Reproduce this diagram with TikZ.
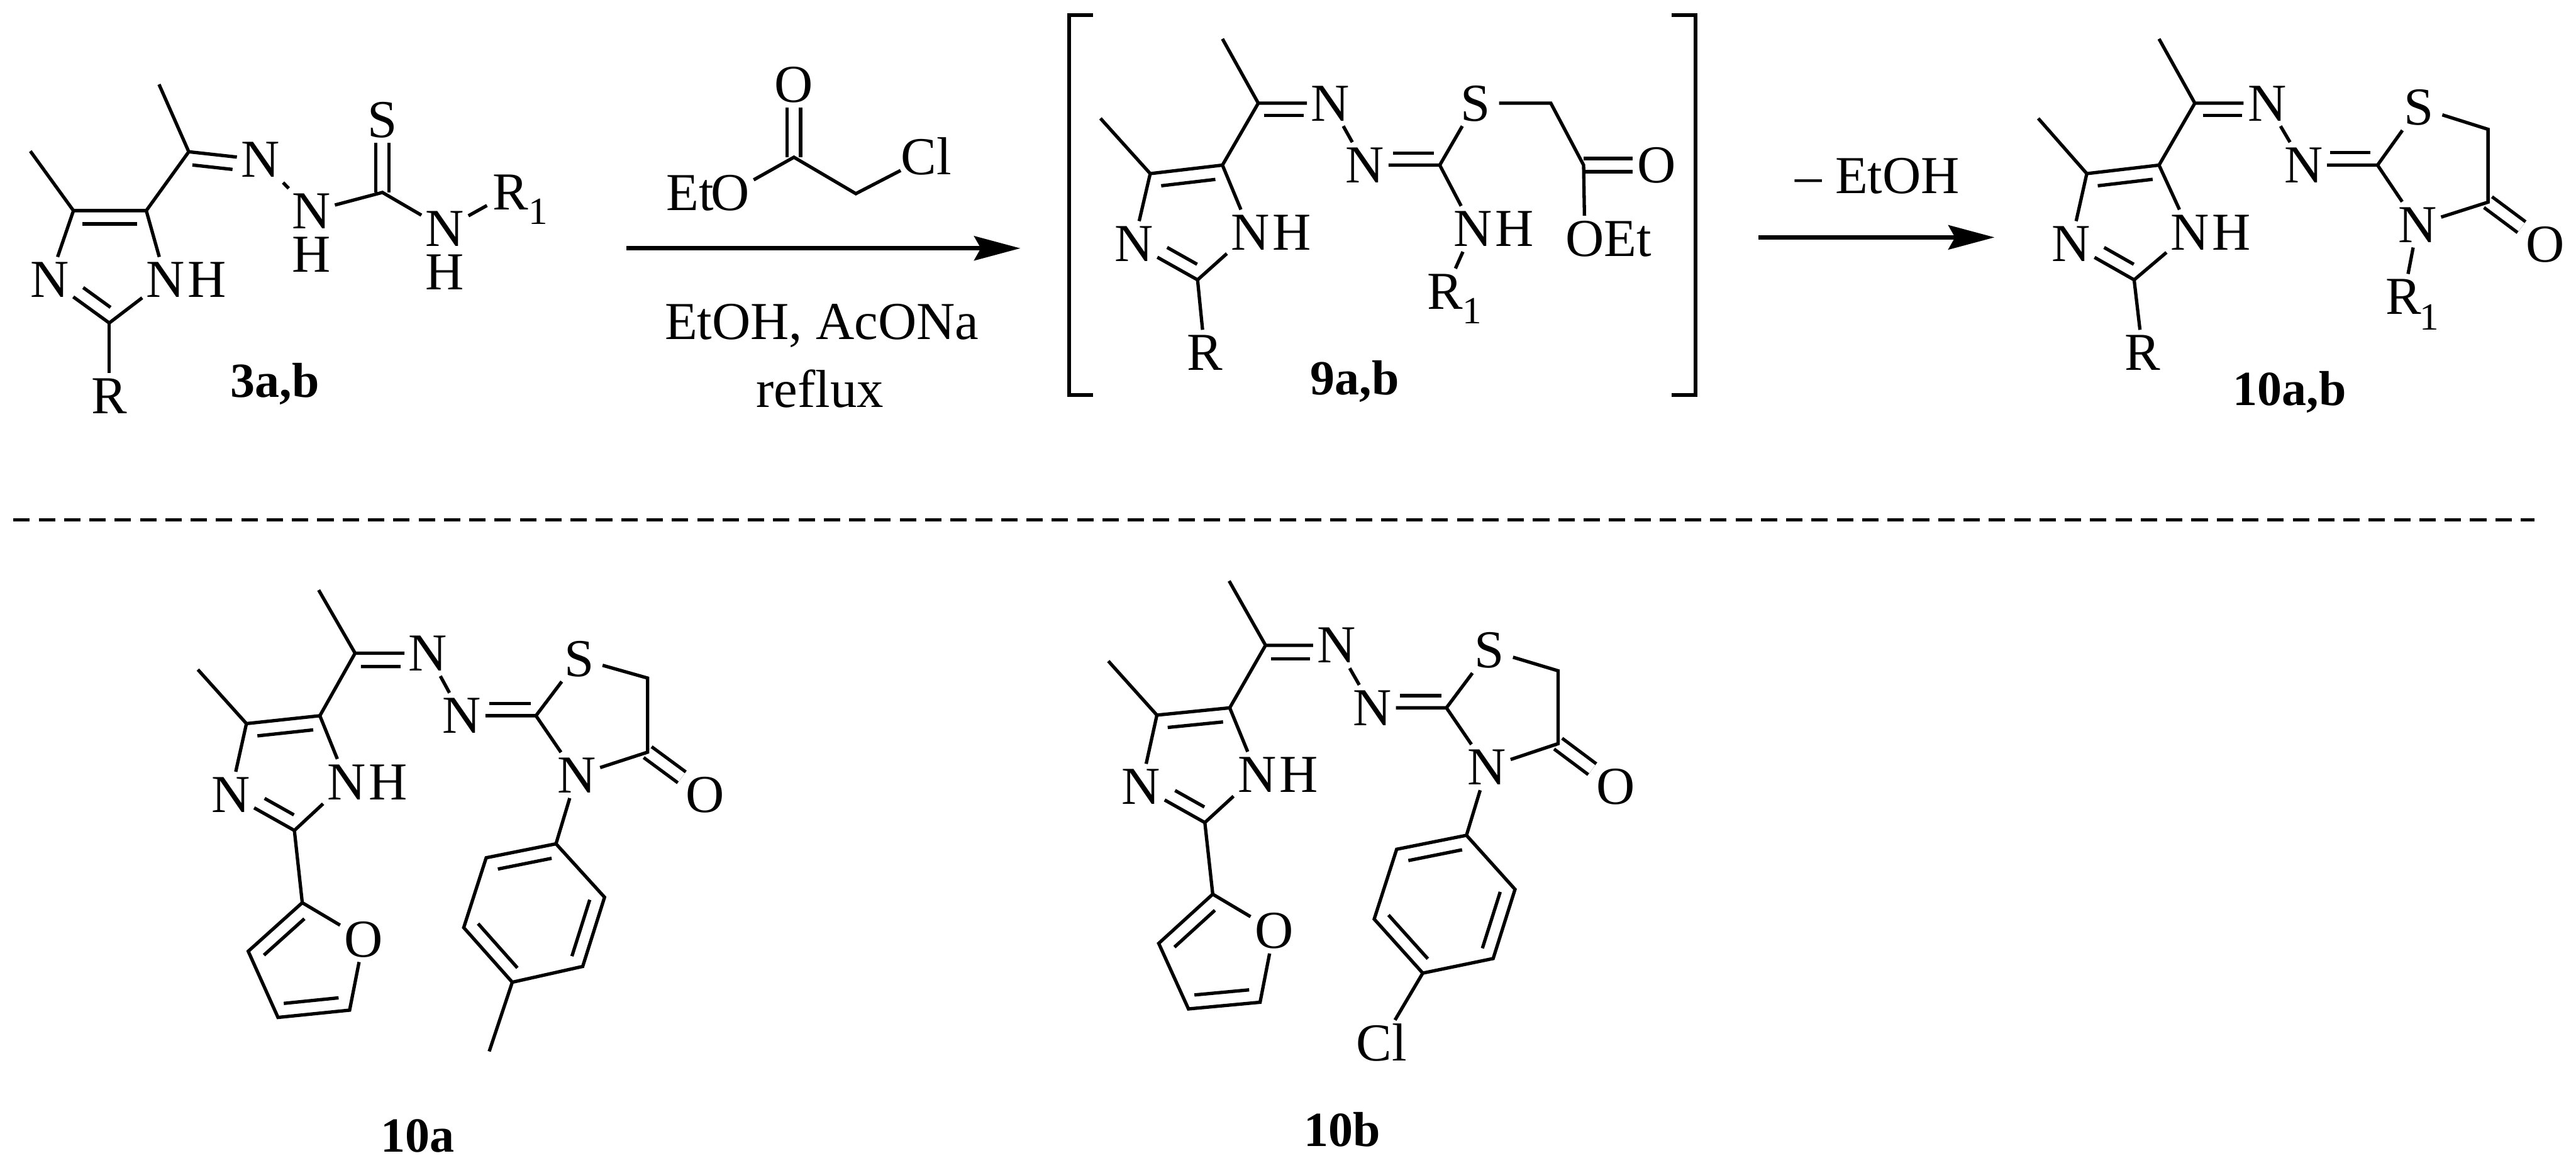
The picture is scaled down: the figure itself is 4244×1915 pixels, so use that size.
\documentclass[tikz,border=0pt]{standalone}
\usepackage{fontspec}
\setmainfont{Liberation Serif}
\usetikzlibrary{arrows.meta,calc,positioning}
\tikzset{
atom/.style={inner sep=0pt,minimum width=.76cm,minimum height=.74cm,text height=.58cm,text depth=0pt,font=\fontsize{25}{30}\selectfont},
atomsub/.style={inner sep=0pt,font=\fontsize{18}{20}\selectfont},
rxntext/.style={inner sep=0pt,anchor=base,font=\fontsize{25}{30}\selectfont},
molname/.style={inner sep=0pt,anchor=base,font=\fontsize{23}{28}\selectfont\bfseries},
bond/.style={line width=.055cm},
dblbond/.style={line width=.055cm,double,double distance=.165cm},
bracketline/.style={line width=.06cm},
rxnarrow/.style={line width=.07cm,-{Stealth[length=.76cm,width=.4cm,inset=.11cm]}},
sepline/.style={line width=.055cm,dash pattern=on .27cm off .147cm}
}
\newcommand{\innerbond}[5]{\draw[bond] ($(#1)!#3!(#2)!#5!90:(#2)$) -- ($(#1)!#4!(#2)!#5!90:(#2)$);}
\begin{document}
\begin{tikzpicture}[x=.01cm,y=-.01cm]
\useasboundingbox (0,0) rectangle (4244,1915);

\coordinate (m3me1) at (262,139);
\coordinate (m3cim) at (311,250);
\node[atom] (m3nim) at (429,263) {N};
\node[atom] (m3nh) at (513,348) {N};
\node[atom,below=-.04cm of m3nh] (m3h) {H};
\coordinate (m3cs) at (630,317);
\node[atom] (m3s) at (630,197) {S};
\node[atom] (m3n2) at (733,377) {N};
\node[atom,below=-.04cm of m3n2] (m3h2) {H};
\node[atom] (m3r1) at (841,317) {R};
\node[atomsub] (m3r1s) at ([shift={(46,31)}]m3r1.center) {1};
\coordinate (m3c5) at (241,347);
\coordinate (m3c4) at (121,347);
\coordinate (m3me2) at (50,249);
\node[atom] (m3n3) at (82,461) {N};
\node[atom] (m3n1) at (273,461) {N};
\node[atom,right=-.09cm of m3n1] (m3h1) {H};
\coordinate (m3c2) at (180,532);
\node[atom] (m3r) at (180,652) {R};
\node[molname] (m3name) at (453,654) {3a,b};
\draw[dblbond] (m3cs) -- (m3s);
\draw[bond] (m3me1) -- (m3cim) -- (m3nim) -- (m3nh) -- (m3cs) -- (m3n2) -- (m3r1);
\draw[bond] (m3cim) -- (m3c5) -- (m3c4) -- (m3me2);
\draw[bond] (m3c4) -- (m3n3) -- (m3c2) -- (m3n1) -- (m3c5);
\draw[bond] (m3c2) -- (m3r);
\innerbond{m3c5}{m3c4}{.125}{.88}{.22cm}
\innerbond{m3cim}{m3nim}{.07}{.63}{-.21cm}
\innerbond{m3c2}{m3n3}{.11}{.57}{-.22cm}

\node[atom] (rgo) at (1308,139) {O};
\coordinate (rgc) at (1308,259);
\node[atom] (rgo2) at (1203,318) {O};
\node[atom,left=-.12cm of rgo2] (rget) {Et};
\coordinate (rgch) at (1410,319);
\node[atom] (rgcl) at (1526,259) {Cl};
\draw[dblbond] (rgc) -- (rgo);
\draw[bond] (rgo2) -- (rgc) -- (rgch) -- (rgcl);
\coordinate (ar1a) at (1032,409);
\coordinate (ar1b) at (1681,409);
\draw[rxnarrow] (ar1a) -- (ar1b);
\node[rxntext] (cond1) at (1354,559) {EtOH, AcONa};
\node[rxntext] (cond2) at (1351,671) {reflux};

\coordinate (brl1) at (1801,25);
\coordinate (brl2) at (1761,25);
\coordinate (brl3) at (1761,651);
\coordinate (brl4) at (1801,651);
\coordinate (brr1) at (2754,25);
\coordinate (brr2) at (2793,25);
\coordinate (brr3) at (2793,651);
\coordinate (brr4) at (2754,651);
\draw[bracketline] (brl1) -- (brl2) -- (brl3) -- (brl4);
\draw[bracketline] (brr1) -- (brr2) -- (brr3) -- (brr4);

\coordinate (m9me1) at (2014,64);
\coordinate (m9cim) at (2073,170);
\node[atom] (m9nim) at (2192,170) {N};
\node[atom] (m9n2) at (2249,272) {N};
\coordinate (m9cn) at (2372,272);
\node[atom] (m9s) at (2431,170) {S};
\coordinate (m9ch) at (2555,170);
\coordinate (m9co) at (2609,272);
\node[atom] (m9o) at (2729,272) {O};
\node[atom] (m9oe) at (2611,393) {O};
\node[atom,right=-.08cm of m9oe] (m9et) {Et};
\node[atom] (m9nh) at (2427,377) {N};
\node[atom,right=-.09cm of m9nh] (m9h) {H};
\node[atom] (m9r1) at (2381,480) {R};
\node[atomsub] (m9r1s) at ([shift={(44,32)}]m9r1.center) {1};
\coordinate (m9c5) at (2014,272);
\coordinate (m9c4) at (1895,286);
\coordinate (m9me2) at (1813,195);
\node[atom] (m9n3) at (1868,402) {N};
\node[atom] (m9n1) at (2060,383) {N};
\node[atom,right=-.09cm of m9n1] (m9h1) {H};
\coordinate (m9c2) at (1973,461);
\node[atom] (m9r) at (1985,581) {R};
\node[molname] (m9name) at (2232,650) {9a,b};
\draw[dblbond] (m9co) -- (m9o);
\draw[bond] (m9me1) -- (m9cim) -- (m9nim) -- (m9n2) -- (m9cn) -- (m9s) -- (m9ch) -- (m9co) -- (m9oe);
\draw[bond] (m9cn) -- (m9nh) -- (m9r1);
\draw[bond] (m9cim) -- (m9c5) -- (m9c4) -- (m9me2);
\draw[bond] (m9c4) -- (m9n3) -- (m9c2) -- (m9n1) -- (m9c5);
\draw[bond] (m9c2) -- (m9r);
\innerbond{m9c5}{m9c4}{.12}{.87}{.22cm}
\innerbond{m9cim}{m9nim}{.08}{.63}{-.2cm}
\innerbond{m9cn}{m9n2}{.08}{.63}{-.2cm}
\innerbond{m9c2}{m9n3}{.11}{.58}{-.22cm}

\coordinate (ar2a) at (2897,391);
\coordinate (ar2b) at (3286,391);
\draw[rxnarrow] (ar2a) -- (ar2b);
\node[rxntext] (cond3) at (3093,319) {– EtOH};

\coordinate (m10me1) at (3557,64);
\coordinate (m10cim) at (3616,170);
\node[atom] (m10nim) at (3735,170) {N};
\node[atom] (m10n2) at (3795,272) {N};
\coordinate (m10cn) at (3917,272);
\node[atom] (m10s) at (3985,177) {S};
\coordinate (m10ch) at (4099,213);
\coordinate (m10co) at (4099,333);
\node[atom] (m10o) at (4193,403) {O};
\node[atom] (m10nr) at (3983,370) {N};
\node[atom] (m10r1) at (3960,489) {R};
\node[atomsub] (m10r1s) at ([shift={(42,34)}]m10r1.center) {1};
\coordinate (m10c5) at (3557,272);
\coordinate (m10c4) at (3438,286);
\coordinate (m10me2) at (3358,195);
\node[atom] (m10n3) at (3412,402) {N};
\node[atom] (m10n1) at (3608,383) {N};
\node[atom,right=-.09cm of m10n1] (m10h1) {H};
\coordinate (m10c2) at (3516,461);
\node[atom] (m10r) at (3530,581) {R};
\node[molname] (m10name) at (3772,668) {10a,b};
\draw[dblbond] (m10co) -- (m10o);
\draw[bond] (m10me1) -- (m10cim) -- (m10nim) -- (m10n2) -- (m10cn) -- (m10s) -- (m10ch) -- (m10co) -- (m10nr) -- (m10cn);
\draw[bond] (m10nr) -- (m10r1);
\draw[bond] (m10cim) -- (m10c5) -- (m10c4) -- (m10me2);
\draw[bond] (m10c4) -- (m10n3) -- (m10c2) -- (m10n1) -- (m10c5);
\draw[bond] (m10c2) -- (m10r);
\innerbond{m10c5}{m10c4}{.11}{.87}{.22cm}
\innerbond{m10cim}{m10nim}{.11}{.65}{-.2cm}
\innerbond{m10cn}{m10n2}{.1}{.64}{-.21cm}
\innerbond{m10c2}{m10n3}{.11}{.58}{-.22cm}

\coordinate (sepa) at (22,856);
\coordinate (sepb) at (4176,856);
\draw[sepline] (sepa) -- (sepb);

\coordinate (mame1) at (525,972);
\coordinate (macim) at (585,1076);
\node[atom] (manim) at (705,1076) {N};
\node[atom] (man2) at (761,1179) {N};
\coordinate (macn) at (883,1179);
\node[atom] (mas) at (954,1085) {S};
\coordinate (mach) at (1067,1117);
\coordinate (maco) at (1067,1239);
\node[atom] (mao) at (1162,1309) {O};
\node[atom] (manr) at (950,1277) {N};
\coordinate (mac5) at (527,1179);
\coordinate (mac4) at (406,1192);
\coordinate (mame2) at (326,1103);
\node[atom] (man3) at (380,1309) {N};
\node[atom] (man1) at (571,1288) {N};
\node[atom,right=-.09cm of man1] (mah1) {H};
\coordinate (mac2) at (485,1368);
\coordinate (mafa) at (498,1487);
\node[atom] (mafo) at (599,1547) {O};
\coordinate (mafb) at (409,1567);
\coordinate (mafc) at (458,1676);
\coordinate (mafd) at (576,1664);
\coordinate (maipso) at (916,1390);
\coordinate (maorta) at (801,1413);
\coordinate (maortb) at (996,1478);
\coordinate (mameta) at (764,1528);
\coordinate (mametb) at (960,1592);
\coordinate (mapara) at (844,1618);
\coordinate (mame3) at (806,1732);
\node[molname] (maname) at (688,1898) {10a};
\draw[dblbond] (maco) -- (mao);
\draw[bond] (mame1) -- (macim) -- (manim) -- (man2) -- (macn) -- (mas) -- (mach) -- (maco) -- (manr) -- (macn);
\draw[bond] (macim) -- (mac5) -- (mac4) -- (mame2);
\draw[bond] (mac4) -- (man3) -- (mac2) -- (man1) -- (mac5);
\draw[bond] (mac2) -- (mafa) -- (mafo) -- (mafd) -- (mafc) -- (mafb) -- (mafa);
\draw[bond] (manr) -- (maipso) -- (maorta) -- (mameta) -- (mapara) -- (mametb) -- (maortb) -- (maipso);
\draw[bond] (mapara) -- (mame3);
\innerbond{macim}{manim}{.08}{.625}{-.22cm}
\innerbond{macn}{man2}{.07}{.63}{-.2cm}
\innerbond{mac5}{mac4}{.11}{.87}{.22cm}
\innerbond{mac2}{man3}{.11}{.57}{-.22cm}
\innerbond{mafa}{mafb}{.126}{.875}{.22cm}
\innerbond{mafc}{mafd}{.1}{.865}{.22cm}
\innerbond{maipso}{maorta}{.1}{.87}{.22cm}
\innerbond{maortb}{mametb}{.095}{.91}{-.22cm}
\innerbond{mameta}{mapara}{.09}{.9}{.22cm}

\coordinate (mbme1) at (2025,957);
\coordinate (mbcim) at (2085,1063);
\node[atom] (mbnim) at (2202,1063) {N};
\node[atom] (mbn2) at (2261,1166) {N};
\coordinate (mbcn) at (2383,1166);
\node[atom] (mbs) at (2454,1071) {S};
\coordinate (mbch) at (2567,1105);
\coordinate (mbco) at (2567,1225);
\node[atom] (mbo) at (2662,1296) {O};
\node[atom] (mbnr) at (2450,1264) {N};
\coordinate (mbc5) at (2026,1166);
\coordinate (mbc4) at (1906,1178);
\coordinate (mbme2) at (1826,1089);
\node[atom] (mbn3) at (1880,1296) {N};
\node[atom] (mbn1) at (2071,1276) {N};
\node[atom,right=-.09cm of mbn1] (mbh1) {H};
\coordinate (mbc2) at (1985,1355);
\coordinate (mbfa) at (1998,1473);
\node[atom] (mbfo) at (2099,1533) {O};
\coordinate (mbfb) at (1909,1554);
\coordinate (mbfc) at (1958,1662);
\coordinate (mbfd) at (2076,1651);
\coordinate (mbipso) at (2416,1376);
\coordinate (mborta) at (2301,1399);
\coordinate (mbortb) at (2496,1465);
\coordinate (mbmeta) at (2264,1514);
\coordinate (mbmetb) at (2460,1579);
\coordinate (mbpara) at (2344,1603);
\node[atom] (mbcl) at (2276,1718) {Cl};
\node[molname] (mbname) at (2211,1888) {10b};
\draw[dblbond] (mbco) -- (mbo);
\draw[bond] (mbme1) -- (mbcim) -- (mbnim) -- (mbn2) -- (mbcn) -- (mbs) -- (mbch) -- (mbco) -- (mbnr) -- (mbcn);
\draw[bond] (mbcim) -- (mbc5) -- (mbc4) -- (mbme2);
\draw[bond] (mbc4) -- (mbn3) -- (mbc2) -- (mbn1) -- (mbc5);
\draw[bond] (mbc2) -- (mbfa) -- (mbfo) -- (mbfd) -- (mbfc) -- (mbfb) -- (mbfa);
\draw[bond] (mbnr) -- (mbipso) -- (mborta) -- (mbmeta) -- (mbpara) -- (mbmetb) -- (mbortb) -- (mbipso);
\draw[bond] (mbpara) -- (mbcl);
\innerbond{mbcim}{mbnim}{.08}{.625}{-.22cm}
\innerbond{mbcn}{mbn2}{.07}{.63}{-.2cm}
\innerbond{mbc5}{mbc4}{.11}{.87}{.22cm}
\innerbond{mbc2}{mbn3}{.11}{.57}{-.22cm}
\innerbond{mbfa}{mbfb}{.126}{.875}{.22cm}
\innerbond{mbfc}{mbfd}{.1}{.865}{.22cm}
\innerbond{mbipso}{mborta}{.1}{.87}{.22cm}
\innerbond{mbortb}{mbmetb}{.095}{.91}{-.22cm}
\innerbond{mbmeta}{mbpara}{.09}{.9}{.22cm}
\end{tikzpicture}
\end{document}
